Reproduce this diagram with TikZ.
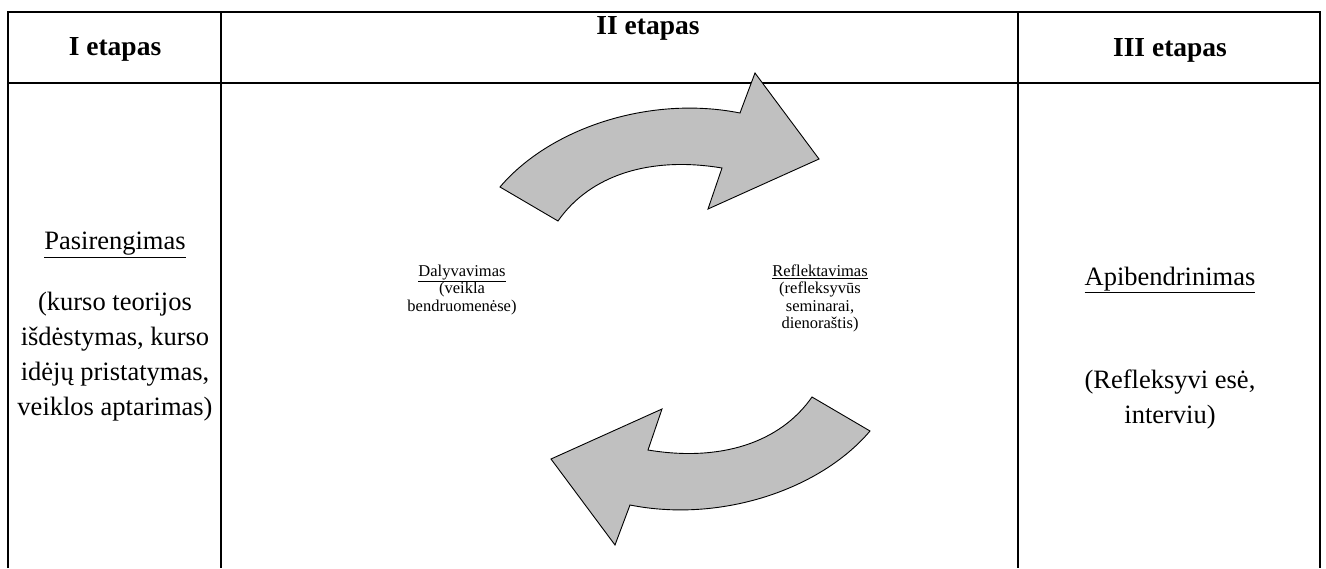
\documentclass[tikz,border=0pt]{standalone}
\usepackage{fontspec}
\setmainfont{Liberation Serif}
\definecolor{arrowgray}{RGB}{192,192,192}
\begin{document}
\begin{tikzpicture}[x=1pt,y=-1pt,
  grid/.style={line width=2.5pt},
  arrowshape/.style={fill=arrowgray, draw=black, line width=0.9pt, line join=miter},
  headtext/.style={font=\fontsize{27.5}{32}\selectfont\bfseries, align=center, inner sep=0pt},
  bigtext/.style={font=\fontsize{26.5}{35}\selectfont, align=center, inner sep=0pt},
  smalltext/.style={font=\fontsize{16.5}{17.5}\selectfont, align=center, inner sep=0pt}]
\useasboundingbox (0,0) rectangle (1326,568);
% table
\draw[grid] (8,568) -- (8,12) -- (1320,12) -- (1320,568);
\draw[grid] (8,83) -- (1320,83);
\draw[grid] (221,12) -- (221,568);
\draw[grid] (1018,12) -- (1018,568);
% headers
\node[headtext] (h1) at (115,49) {I etapas};
\node[headtext] (h2) at (648,28) {II etapas};
\node[headtext] (h3) at (1170,50) {III etapas};
% left column
\node[bigtext] (prep) at (115,245) {\underline{Pasirengimas}};
\node[bigtext] (prepd) at (115,357) {(kurso teorijos\\išdėstymas, kurso\\idėjų pristatymas,\\veiklos aptarimas)};
% right column
\node[bigtext] (gen) at (1170,280) {\underline{Apibendrinimas}};
\node[bigtext] (gend) at (1170,399) {(Refleksyvi esė,\\interviu)};
% middle
\node[smalltext] (dal) at (462,290) {\underline{Dalyvavimas}\\(veikla\\bendruomenėse)};
\node[smalltext] (ref) at (820,298.5) {\underline{Reflektavimas}\\(refleksyvūs\\seminarai,\\dienoraštis)};
% arrows
\draw[arrowshape] (500,187) .. controls (550,128) and (650,95) .. (740,113)
  -- (755,73) -- (819,159) -- (708,209) -- (722,168)
  .. controls (650,156) and (590,175) .. (558,221) -- cycle;
\begin{scope}[rotate around={180:(685,309)}]
\draw[arrowshape] (500,187) .. controls (550,128) and (650,95) .. (740,113)
  -- (755,73) -- (819,159) -- (708,209) -- (722,168)
  .. controls (650,156) and (590,175) .. (558,221) -- cycle;
\end{scope}
\end{tikzpicture}
\end{document}
